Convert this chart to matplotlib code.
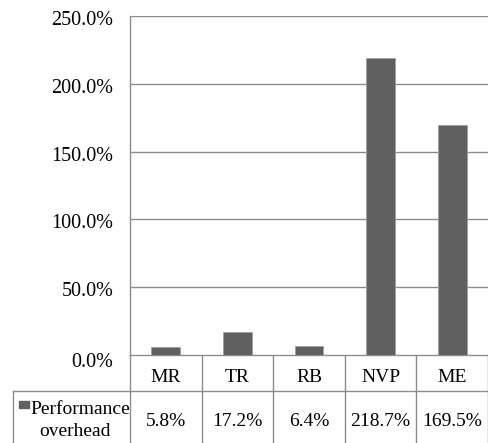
import matplotlib.pyplot as plt
from matplotlib.patches import Rectangle
from matplotlib.transforms import ScaledTranslation
import numpy as np

plt.rcParams['font.family'] = ['Liberation Serif', 'DejaVu Serif']

# категории и значения накладных расходов (в процентах)
categories = ['MR', 'TR', 'RB', 'NVP', 'ME']
overhead = [5.8, 17.2, 6.4, 218.7, 169.5]
series_name = 'Performance\noverhead'

W, H = 489, 443
fs = 14.5
fs_tab = 14
bar_color = '#606060'
line_color = '#8c8c8c'

fig = plt.figure(figsize=(W / 100, H / 100), dpi=100)

# область графика в пикселях: x 130..488, y 16..355 (сверху вниз)
left, right, top, bottom = 130, 488, 16, 355
ax = fig.add_axes([left / W, (H - bottom) / H, (right - left) / W, (bottom - top) / H])

x = np.arange(len(categories))
ax.bar(x, overhead, width=0.4, color=bar_color, edgecolor='#a0a0a0', linewidth=0.6, zorder=3)
ax.set_xlim(-0.5, len(categories) - 0.5)
ax.set_ylim(0, 250)
yt = np.arange(0, 251, 50)
ax.set_yticks(yt)
ax.set_yticklabels(['%.1f%%' % v for v in yt], fontsize=fs)
ax.tick_params(axis='y', length=0, pad=12)
# подписи оси чуть ниже линий сетки, у нуля заметнее
for lab, v in zip(ax.get_yticklabels(), yt):
    dy = 2 if v > 0 else 5
    lab.set_transform(lab.get_transform() + ScaledTranslation(0, -dy / 100, fig.dpi_scale_trans))
ax.set_xticks([])
ax.grid(axis='y', color=line_color, linewidth=1.0, zorder=0)
for s in ['top', 'right', 'bottom']:
    ax.spines[s].set_visible(False)
ax.spines['left'].set_color(line_color)
ax.spines['left'].set_linewidth(1.0)

# таблица данных под графиком, рисуем в пиксельных координатах
tab = fig.add_axes([0, 0, 1, 1], zorder=-1)
tab.set_xlim(0, W)
tab.set_ylim(H, 0)
tab.axis('off')

row_mid = 391
col_w = (right - left) / len(categories)
edges = [left + i * col_w for i in range(len(categories) + 1)]

tab.plot([left, right], [bottom, bottom], color=line_color, lw=1.0)
tab.plot([13, right], [row_mid, row_mid], color=line_color, lw=1.0)
for e in edges:
    tab.plot([e, e], [bottom, H], color=line_color, lw=1.0)
tab.plot([13, 13], [row_mid, H], color=line_color, lw=1.0)

for i, (c, v) in enumerate(zip(categories, overhead)):
    cx = (edges[i] + edges[i + 1]) / 2
    tab.text(cx, 378, c, ha='center', va='center', fontsize=fs_tab)
    tab.text(cx, 421, '%.1f%%' % v, ha='center', va='center', fontsize=fs_tab)

tab.add_patch(Rectangle((19, 401), 10, 7, color=bar_color))
name1, name2 = series_name.split('\n')
tab.text(30, 410, name1, ha='left', va='center', fontsize=fs_tab)
tab.text(75, 431, name2, ha='center', va='center', fontsize=fs_tab)

fig.savefig('out.png', dpi=100)
